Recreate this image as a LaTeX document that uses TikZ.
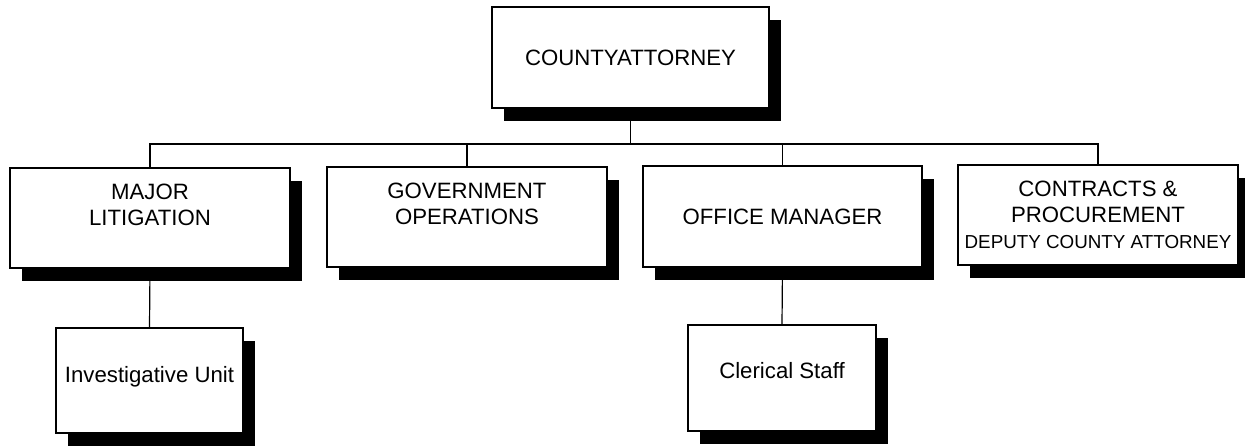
\documentclass[tikz,border=0pt]{standalone}
\usepackage{fontspec}
\setmainfont{Liberation Sans}
\usetikzlibrary{shadows,backgrounds}
\begin{document}
\begin{tikzpicture}[x=1pt,y=-1pt,
  orgbox/.style={draw=black, line width=1.3pt, fill=white, inner sep=0pt,
    align=center, font=\fontsize{22.2}{26}\selectfont,
    drop shadow={shadow xshift=12pt, shadow yshift=-13pt, fill=black, opacity=1}},
  link/.style={draw=black, line width=1.2pt}]
\useasboundingbox (0,0) rectangle (1245,445);
\node[orgbox, minimum width=277pt, minimum height=101pt] (top) at (630.5,57.5) {COUNTYATTORNEY};
\node[orgbox, minimum width=280pt, minimum height=100pt] (b1) at (150,218) {MAJOR\\LITIGATION\\ };
\node[orgbox, minimum width=280pt, minimum height=100pt] (b2) at (467,217) {GOVERNMENT\\OPERATIONS\\ };
\node[orgbox, minimum width=279pt, minimum height=101pt] (b3) at (782.5,216.5) {OFFICE MANAGER};
\node[orgbox, minimum width=280pt, minimum height=100pt] (b4) at (1098,215) {CONTRACTS \&\\PROCUREMENT\\{\fontsize{18.8}{24}\selectfont DEPUTY COUNTY ATTORNEY}};
\node[orgbox, minimum width=187pt, minimum height=105pt, text depth=13pt] (b5) at (149.5,380.5) {Investigative Unit};
\node[orgbox, minimum width=188pt, minimum height=106pt, text depth=15pt] (b6) at (782,378) {Clerical Staff};
\coordinate (j) at (630.5,144);
\begin{scope}[on background layer]
  \draw[link] (top.south) -- (j);
  \draw[link] (b1.north) -- (b1.north |- j) -- (b4.north |- j) -- (b4.north);
  \draw[link] (b2.north) -- (b2.north |- j);
  \draw[link] (b3.north) -- (b3.north |- j);
  \draw[link] (b1.south) -- (b5.north);
  \draw[link] (b3.south) -- (b6.north);
\end{scope}
\end{tikzpicture}
\end{document}
